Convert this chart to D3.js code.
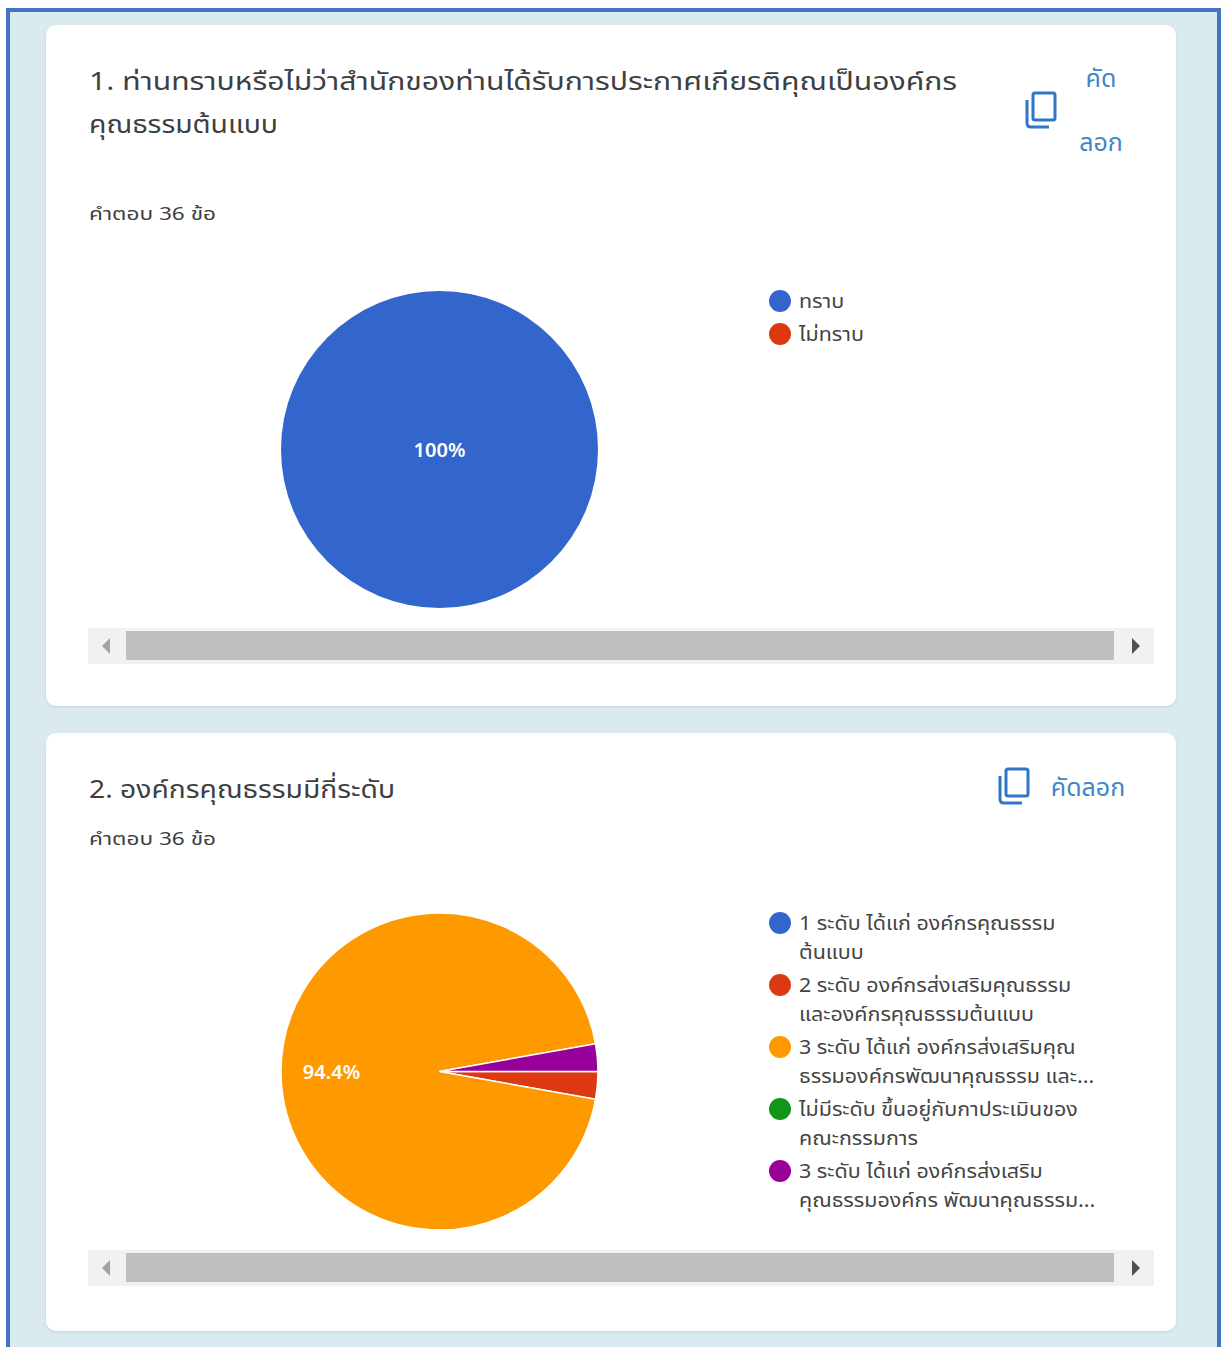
<!DOCTYPE html>
<html>
<head>
<meta charset="utf-8">
<script src="https://cdn.jsdelivr.net/npm/d3@7"></script>
<style>
  body { margin: 0; background: #fff; }
  svg { display: block; }
  text { font-family: "Noto Sans", "Noto Sans Thai", "DejaVu Sans", sans-serif; }
</style>
</head>
<body>
<div id="wrapper"></div>
<script>
// Data
const title1 = ["1. ท่านทราบหรือไม่ว่าสำนักของท่านได้รับการประกาศเกียรติคุณเป็นองค์กร", "คุณธรรมต้นแบบ"]
const title2 = ["2. องค์กรคุณธรรมมีกี่ระดับ"]
const answers = "คำตอบ 36 ข้อ"
const categories1 = ["ทราบ", "ไม่ทราบ"]
const values1 = [100, 0]
const labels1 = ["100%", ""]
const colors1 = ["#3366cc", "#dc3912"]
const categories2 = [
    ["1 ระดับ ได้แก่ องค์กรคุณธรรม", "ต้นแบบ"],
    ["2 ระดับ องค์กรส่งเสริมคุณธรรม", "และองค์กรคุณธรรมต้นแบบ"],
    ["3 ระดับ ได้แก่ องค์กรส่งเสริมคุณ", "ธรรมองค์กรพัฒนาคุณธรรม และ..."],
    ["ไม่มีระดับ ขึ้นอยู่กับกาประเมินของ", "คณะกรรมการ"],
    ["3 ระดับ ได้แก่ องค์กรส่งเสริม", "คุณธรรมองค์กร พัฒนาคุณธรรม..."],
]
const values2 = [0, 2.8, 94.4, 0, 2.8]
const labels2 = ["", "", "94.4%", "", ""]
const colors2 = ["#3366cc", "#dc3912", "#ff9900", "#109618", "#990099"]

const width = 1221
const height = 1347

const wrapper = d3.select("#wrapper")
    .append("svg")
        .attr("width", width)
        .attr("height", height)

// Page frame
wrapper.append("rect")
    .attr("x", 8).attr("y", 10)
    .attr("width", 1211).attr("height", 1345)
    .attr("fill", "#d9ebee")
    .attr("stroke", "#4472c4")
    .attr("stroke-width", 4)

const defs = wrapper.append("defs")
const shadow = defs.append("filter").attr("id", "shadow")
    .attr("x", "-2%").attr("y", "-2%").attr("width", "104%").attr("height", "104%")
shadow.append("feDropShadow")
    .attr("dx", 0).attr("dy", 1).attr("stdDeviation", 1.5)
    .attr("flood-color", "#9ab").attr("flood-opacity", 0.35)

function drawCard(opts) {
    const card = wrapper.append("g")

    card.append("rect")
        .attr("x", 46).attr("y", opts.top)
        .attr("width", 1130).attr("height", opts.bottom - opts.top)
        .attr("rx", 10)
        .attr("fill", "#fff")
        .attr("filter", "url(#shadow)")

    // Title and response count
    card.selectAll(".title")
        .data(opts.title)
        .join("text")
            .attr("class", "title")
            .attr("x", 89)
            .attr("y", (d, i) => opts.titleY + i * 43)
            .attr("fill", "#3c4043")
            .attr("font-size", 25.5)
            .attr("textLength", (d, i) => opts.titleLengths[i])
            .attr("lengthAdjust", "spacingAndGlyphs")
            .text(d => d)

    card.append("text")
        .attr("x", 89).attr("y", opts.countY)
        .attr("fill", "#3c4043")
        .attr("font-size", 18.5)
        .attr("textLength", 127)
        .attr("lengthAdjust", "spacingAndGlyphs")
        .text(answers)

    // Copy button
    const icon = card.append("g")
        .attr("transform", `translate(${opts.iconX}, ${opts.iconY})`)
        .attr("fill", "none")
        .attr("stroke", "#2f77c4")
        .attr("stroke-width", 3)
    icon.append("rect")
        .attr("x", 7).attr("y", 0).attr("width", 22).attr("height", 27).attr("rx", 2)
    icon.append("path")
        .attr("d", "M1 7 V30 Q1 34 5 34 H23")

    card.selectAll(".copy")
        .data(opts.copyText)
        .join("text")
            .attr("class", "copy")
            .attr("x", d => d.x)
            .attr("y", d => d.y)
            .attr("text-anchor", "middle")
            .attr("fill", "#4285c9")
            .attr("font-size", 25)
            .text(d => d.text)

    // Pie
    const pie = d3.pie()
        .sort(null)
        .startAngle(Math.PI / 2)
        .endAngle(Math.PI * 2.5)
    const arcs = pie(opts.values)
    const arc = d3.arc().innerRadius(0).outerRadius(158.5)
    const labelArc = d3.arc().innerRadius(108).outerRadius(108)

    const chart = card.append("g")
        .attr("transform", `translate(439.5, ${opts.cy})`)

    chart.selectAll("path")
        .data(arcs.filter(d => d.value > 0))
        .join("path")
            .attr("d", arc)
            .attr("fill", d => opts.colors[d.index])
            .attr("stroke", "#fff")
            .attr("stroke-width", d => d.value === 100 ? 0 : 1.5)

    chart.selectAll("text")
        .data(arcs.filter(d => opts.labels[d.index] !== ""))
        .join("text")
            .attr("transform", d => d.value === 100 ? "translate(0, 0)" : `translate(${labelArc.centroid(d)})`)
            .attr("dy", "0.35em")
            .attr("text-anchor", "middle")
            .attr("fill", "#fff")
            .attr("font-size", 20)
            .attr("font-weight", 600)
            .text(d => opts.labels[d.index])

    // Legend
    const legendScale = d3.scalePoint()
        .domain(d3.range(opts.categories.length))
        .range(opts.legendRange)
    const legend = card.selectAll(".legend")
        .data(opts.categories)
        .join("g")
            .attr("class", "legend")
            .attr("transform", (d, i) => `translate(780, ${legendScale(i)})`)

    legend.append("circle")
        .attr("r", 11)
        .attr("fill", (d, i) => opts.colors[i])

    // the reference legend type is wider than it is tall
    legend.selectAll("text")
        .data(d => d)
        .join("text")
            .attr("transform", (d, i) => `translate(19, ${7 + i * 29}) scale(1.13, 1)`)
            .attr("fill", "#444")
            .attr("font-size", 19)
            .text(d => d)

    // Horizontal scrollbar
    const bar = card.append("g")
        .attr("transform", `translate(88, ${opts.barY})`)
    bar.append("rect")
        .attr("width", 1066).attr("height", 36)
        .attr("fill", "#f1f1f1")
    bar.append("rect")
        .attr("x", 38).attr("y", 3)
        .attr("width", 988).attr("height", 29)
        .attr("fill", "#bfbfbf")
    bar.append("path")
        .attr("d", "M22 10 L14 18 L22 26 Z")
        .attr("fill", "#a3a3a3")
    bar.append("path")
        .attr("d", "M1044 10 L1052 18 L1044 26 Z")
        .attr("fill", "#505050")
}

drawCard({
    top: 25, bottom: 706,
    title: title1, titleY: 90, titleLengths: [868, 189],
    countY: 220,
    iconX: 1026, iconY: 93,
    copyText: [{ text: "คัด", x: 1101, y: 87 }, { text: "ลอก", x: 1101, y: 151 }],
    values: values1, labels: labels1, colors: colors1,
    categories: categories1.map(d => [d]),
    cy: 449.5,
    legendRange: [301, 334],
    barY: 628,
})

drawCard({
    top: 733, bottom: 1331,
    title: title2, titleY: 798, titleLengths: [306],
    countY: 845,
    iconX: 999, iconY: 769,
    copyText: [{ text: "คัดลอก", x: 1088, y: 796 }],
    values: values2, labels: labels2, colors: colors2,
    categories: categories2,
    cy: 1071.5,
    legendRange: [923, 1171],
    barY: 1250,
})
</script>
</body>
</html>
